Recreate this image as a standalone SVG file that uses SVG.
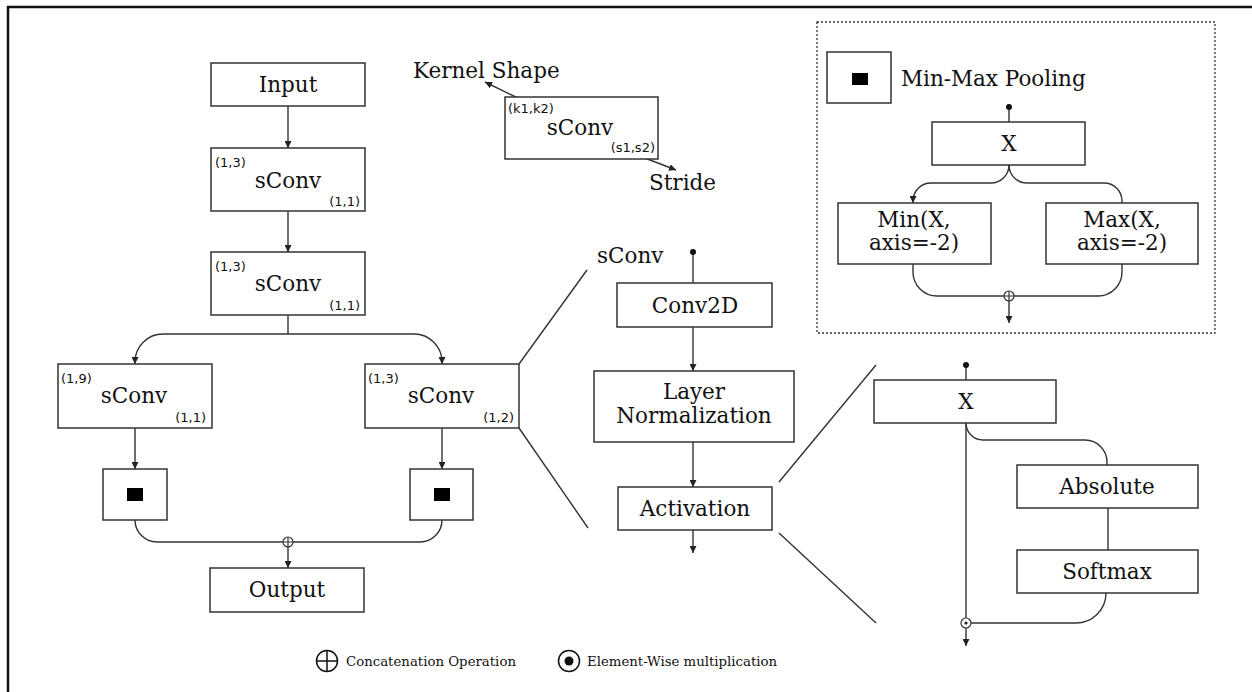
<svg xmlns="http://www.w3.org/2000/svg" width="1252" height="692" viewBox="0 0 1252 692">
<defs>
<marker id="ah" viewBox="0 0 10 10" refX="10" refY="5" markerWidth="7" markerHeight="7" markerUnits="userSpaceOnUse" orient="auto">
<path d="M0,0 L10,5 L0,10 z" fill="#222"/>
</marker>
<style>
.box{fill:#fff;stroke:#333;stroke-width:1.5}
.ln{fill:none;stroke:#333;stroke-width:1.4}
.t{font-family:"DejaVu Serif","Liberation Serif",serif;font-size:21.5px;fill:#111;text-anchor:middle}
.tl{font-family:"DejaVu Serif","Liberation Serif",serif;font-size:21.5px;fill:#111}
.s{font-family:"DejaVu Sans","Open Sans",sans-serif;font-size:13px;fill:#111}
.se{font-family:"DejaVu Sans","Open Sans",sans-serif;font-size:13px;fill:#111;text-anchor:end}
.lg{font-family:"DejaVu Serif","Liberation Serif",serif;font-size:13.3px;fill:#111}
.blk{fill:#000}
</style>
</defs>
<rect width="1252" height="692" fill="#fff"/>
<g id="frame">
<line x1="8" y1="6" x2="8" y2="692" stroke="#111" stroke-width="2.5"/>
<line x1="7" y1="7" x2="1252" y2="7" stroke="#111" stroke-width="2.5"/>
</g>

<g id="connectors">
<line class="ln" x1="288" y1="106" x2="288" y2="148" marker-end="url(#ah)"/>
<line class="ln" x1="288" y1="211" x2="288" y2="252" marker-end="url(#ah)"/>
<line class="ln" x1="288" y1="315" x2="288" y2="334"/>
<path class="ln" d="M288,334 H163 A28,28 0 0 0 135,362 V364" marker-end="url(#ah)"/>
<path class="ln" d="M288,334 H414 A28,28 0 0 1 442,362 V364" marker-end="url(#ah)"/>
<line class="ln" x1="135" y1="428" x2="135" y2="469" marker-end="url(#ah)"/>
<line class="ln" x1="442" y1="428" x2="442" y2="469" marker-end="url(#ah)"/>
<path class="ln" d="M135,520 A22,22 0 0 0 157,542 H283"/>
<path class="ln" d="M442,520 A22,22 0 0 1 420,542 H293"/>
<line class="ln" x1="288" y1="547" x2="288" y2="568" marker-end="url(#ah)"/>

<line class="ln" x1="522" y1="100" x2="485" y2="82" marker-end="url(#ah)"/>
<line class="ln" x1="637" y1="155" x2="676" y2="170" marker-end="url(#ah)"/>

<line class="ln" x1="1009" y1="107" x2="1009" y2="122"/>
<path class="ln" d="M1009,165 A18,18 0 0 1 991,183 H931 A18,18 0 0 0 913,201 V203" marker-end="url(#ah)"/>
<path class="ln" d="M1009,165 A18,18 0 0 0 1027,183 H1104 A18,18 0 0 1 1122,201 V203"/>
<path class="ln" d="M913,264 V272 A24,24 0 0 0 937,296 H1004"/>
<path class="ln" d="M1122,264 V272 A24,24 0 0 1 1098,296 H1014"/>
<line class="ln" x1="1009" y1="301" x2="1009" y2="323" marker-end="url(#ah)"/>

<line class="ln" x1="693" y1="252" x2="693" y2="283"/>
<line class="ln" x1="693" y1="327" x2="693" y2="371" marker-end="url(#ah)"/>
<line class="ln" x1="693" y1="442" x2="693" y2="487" marker-end="url(#ah)"/>
<line class="ln" x1="693" y1="530" x2="693" y2="553" marker-end="url(#ah)"/>

<line class="ln" x1="519" y1="364" x2="587" y2="270"/>
<line class="ln" x1="519" y1="428" x2="588" y2="528"/>
<line class="ln" x1="779" y1="482" x2="876" y2="365"/>
<line class="ln" x1="779" y1="533" x2="876" y2="623"/>

<line class="ln" x1="966" y1="365" x2="966" y2="380"/>
<line class="ln" x1="966" y1="423" x2="966" y2="618"/>
<line class="ln" x1="966" y1="628" x2="966" y2="646" marker-end="url(#ah)"/>
<path class="ln" d="M966,423 A17,17 0 0 0 983,440 H1085 A22,22 0 0 1 1107,462 V465"/>
<line class="ln" x1="1108" y1="508" x2="1108" y2="550"/>
<path class="ln" d="M1106,593 A30,30 0 0 1 1076,623 H971"/>
</g>

<g id="ops">
<circle cx="288" cy="542" r="5" fill="#fff" stroke="#333" stroke-width="1.2"/>
<path d="M283,542 H293 M288,537 V547" stroke="#333" stroke-width="1.2"/>
<circle cx="1009" cy="296" r="5" fill="#fff" stroke="#333" stroke-width="1.2"/>
<path d="M1004,296 H1014 M1009,291 V301" stroke="#333" stroke-width="1.2"/>
<circle cx="966" cy="623" r="5" fill="#fff" stroke="#333" stroke-width="1.2"/>
<circle cx="966" cy="623" r="1.6" fill="#222"/>
<circle cx="693" cy="252" r="3" fill="#111"/>
<circle cx="1009" cy="107" r="3" fill="#111"/>
<circle cx="966" cy="365" r="3" fill="#111"/>
</g>

<g id="input"><rect class="box" x="211" y="63" width="154" height="43"/><text class="t" x="288" y="92">Input</text></g>
<g id="sconv1"><rect class="box" x="211" y="148" width="154" height="63"/><text class="t" x="288" y="188">sConv</text><text class="s" x="215" y="167">(1,3)</text><text class="se" x="360" y="206">(1,1)</text></g>
<g id="sconv2"><rect class="box" x="211" y="252" width="154" height="63"/><text class="t" x="288" y="291">sConv</text><text class="s" x="215" y="271">(1,3)</text><text class="se" x="360" y="310">(1,1)</text></g>
<g id="sconv3"><rect class="box" x="58" y="364" width="154" height="64"/><text class="t" x="134" y="403">sConv</text><text class="s" x="61" y="383">(1,9)</text><text class="se" x="206" y="422">(1,1)</text></g>
<g id="sconv4"><rect class="box" x="365" y="364" width="154" height="64"/><text class="t" x="441" y="403">sConv</text><text class="s" x="368" y="383">(1,3)</text><text class="se" x="514" y="422">(1,2)</text></g>
<g id="pool1"><rect class="box" x="103" y="469" width="64" height="51"/><rect class="blk" x="127" y="488" width="16" height="13"/></g>
<g id="pool2"><rect class="box" x="410" y="469" width="63" height="51"/><rect class="blk" x="434" y="488" width="16" height="13"/></g>
<g id="output"><rect class="box" x="210" y="568" width="154" height="44"/><text class="t" x="287" y="597">Output</text></g>

<g id="kernel-legend">
<rect class="box" x="505" y="97" width="153" height="62"/>
<text class="s" x="508" y="113">(k1,k2)</text>
<text class="t" x="580" y="135">sConv</text>
<text class="se" x="655" y="152">(s1,s2)</text>
<text class="tl" x="413" y="78">Kernel Shape</text>
<text class="tl" x="649" y="190">Stride</text>
</g>

<g id="minmax">
<rect x="817" y="22" width="398" height="311" fill="none" stroke="#333" stroke-width="1.3" stroke-dasharray="2,2"/>
<rect class="box" x="827" y="52" width="64" height="51"/>
<rect class="blk" x="852" y="73" width="16" height="12"/>
<text class="tl" x="901" y="86">Min-Max Pooling</text>
<g id="mm-x"><rect class="box" x="932" y="122" width="153" height="43"/><text class="t" x="1009" y="151">X</text></g>
<g id="mm-min"><rect class="box" x="838" y="203" width="153" height="61"/><text class="t" x="914" y="227">Min(X,</text><text class="t" x="914" y="250">axis=-2)</text></g>
<g id="mm-max"><rect class="box" x="1046" y="203" width="152" height="61"/><text class="t" x="1122" y="227">Max(X,</text><text class="t" x="1122" y="250">axis=-2)</text></g>
</g>

<g id="sconv-detail">
<text class="tl" x="597" y="263">sConv</text>
<g id="conv2d"><rect class="box" x="617" y="283" width="155" height="44"/><text class="t" x="695" y="313">Conv2D</text></g>
<g id="layernorm"><rect class="box" x="594" y="371" width="200" height="71"/><text class="t" x="694" y="399">Layer</text><text class="t" x="694" y="423">Normalization</text></g>
<g id="activation"><rect class="box" x="618" y="487" width="154" height="43"/><text class="t" x="695" y="516">Activation</text></g>
</g>

<g id="activation-detail">
<g id="act-x"><rect class="box" x="874" y="380" width="182" height="43"/><text class="t" x="966" y="409">X</text></g>
<g id="absolute"><rect class="box" x="1017" y="465" width="181" height="43"/><text class="t" x="1107" y="494">Absolute</text></g>
<g id="softmax"><rect class="box" x="1017" y="550" width="181" height="43"/><text class="t" x="1107" y="579">Softmax</text></g>
</g>

<g id="legend">
<circle cx="327" cy="661" r="10.5" fill="none" stroke="#111" stroke-width="1.5"/>
<path d="M316.5,661 H337.5 M327,650.5 V671.5" stroke="#111" stroke-width="1.5"/>
<text class="lg" x="346" y="666">Concatenation Operation</text>
<circle cx="569" cy="661" r="10.5" fill="none" stroke="#111" stroke-width="1.5"/>
<circle cx="569" cy="661" r="4.5" fill="#111"/>
<text class="lg" x="587" y="666">Element-Wise multiplication</text>
</g>
</svg>
